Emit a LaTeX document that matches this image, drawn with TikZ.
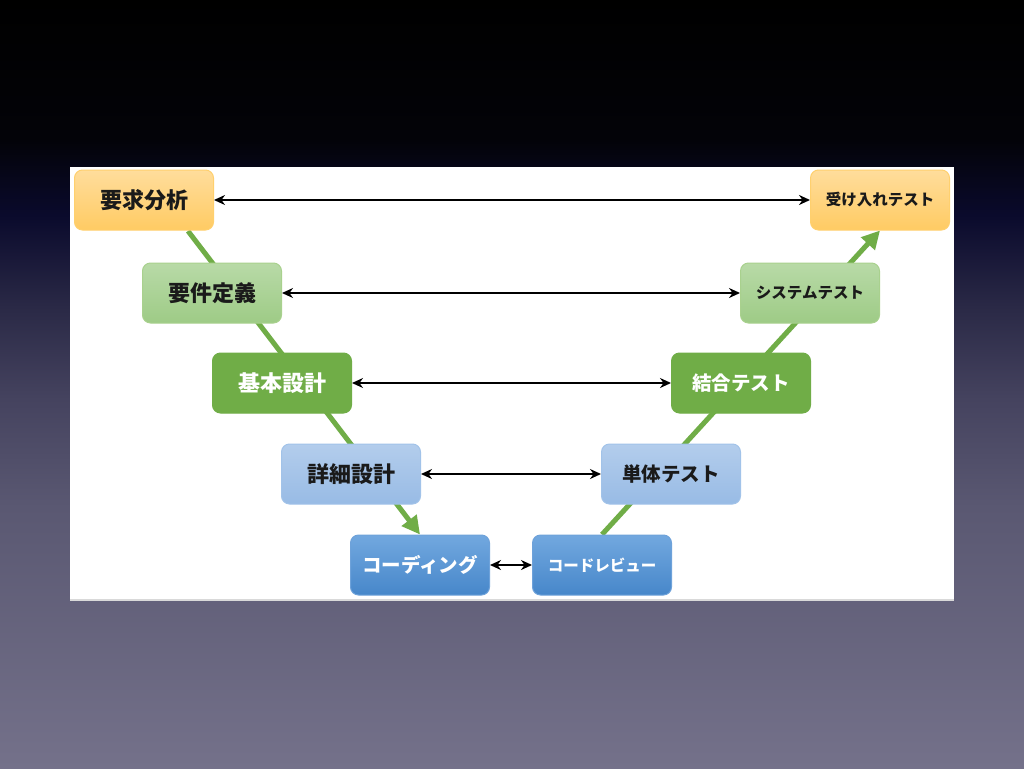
\documentclass[tikz,border=0pt]{standalone}
\usepackage{fontspec}
\setmainfont{Noto Sans CJK JP}
\usetikzlibrary{arrows,arrows.meta,positioning}

\definecolor{bgtop}{HTML}{000000}
\definecolor{bgdark}{HTML}{030308}
\definecolor{bgnavy}{HTML}{0A0A2C}
\definecolor{bgmid}{HTML}{2A2946}
\definecolor{bglow}{HTML}{45435F}
\definecolor{bglower}{HTML}{5A5872}
\definecolor{bgbot}{HTML}{74718A}
\definecolor{orangetop}{HTML}{FFDD9C}
\definecolor{orangebot}{HTML}{FFCB63}
\definecolor{orangeline}{HTML}{FFD06E}
\definecolor{lgreentop}{HTML}{B8DAA7}
\definecolor{lgreenbot}{HTML}{9ECB86}
\definecolor{lgreenline}{HTML}{A9D18E}
\definecolor{vgreen}{HTML}{70AD47}
\definecolor{lbluetop}{HTML}{B3CDEC}
\definecolor{lbluebot}{HTML}{98BBE5}
\definecolor{lblueline}{HTML}{A2C3E9}
\definecolor{mbluetop}{HTML}{72A8DF}
\definecolor{mbluebot}{HTML}{4787CA}
\definecolor{mblueline}{HTML}{6EA2DA}
\definecolor{darktext}{HTML}{1A1A1A}

\pgfdeclareverticalshading{slidebg}{100bp}{color(0bp)=(bgbot); color(25bp)=(bgbot);
  color(42bp)=(bglower); color(49bp)=(bglow); color(55bp)=(bgmid);
  color(61bp)=(bgnavy); color(66bp)=(bgdark); color(75bp)=(bgtop); color(100bp)=(bgtop)}

\pgfdeclarelayer{back}
\pgfdeclarelayer{lines}
\pgfsetlayers{back,lines,main}

\begin{document}
\begin{tikzpicture}[x=1pt,y=-1pt,>={Stealth[length=11pt,width=10pt]}]

  \tikzstyle{box}=[rectangle,rounded corners=8pt,minimum width=139pt,
                   minimum height=60pt,inner sep=0pt,line width=1pt,
                   font=\bfseries\fontsize{22}{22}\selectfont,text=darktext]
  \tikzstyle{orange box}=[box,draw=orangeline,top color=orangetop,bottom color=orangebot]
  \tikzstyle{lgreen box}=[box,draw=lgreenline,top color=lgreentop,bottom color=lgreenbot]
  \tikzstyle{dgreen box}=[box,draw=vgreen,fill=vgreen,text=white]
  \tikzstyle{lblue box}=[box,draw=lblueline,top color=lbluetop,bottom color=lbluebot]
  \tikzstyle{mblue box}=[box,draw=mblueline,top color=mbluetop,bottom color=mbluebot,text=white]
  \tikzstyle{kana}=[font=\bfseries\fontsize{19.5}{19.5}\selectfont]
  \tikzstyle{small kana}=[font=\bfseries\fontsize{15.5}{15.5}\selectfont]
  \tikzstyle{link}=[<->,line width=2.6pt,black]
  \tikzstyle{flow}=[-{Triangle[length=18pt,width=18pt]},line width=5pt,vgreen]

  \useasboundingbox (0,0) rectangle (1024,768);
  \begin{pgfonlayer}{back}
    \shade[shading=slidebg] (0,0) rectangle (1024,768);
    \fill[white] (70,167) rectangle (954,600);
    \draw[black!15,line width=1.5pt] (70,600) -- (954,600);
  \end{pgfonlayer}

  % left leg
  \node[orange box] (req)  at (144,200) {要求分析};
  \node[lgreen box] (spec) at (212,293) {要件定義};
  \node[dgreen box] (arch) at (282,383) {基本設計};
  \node[lblue box]  (det)  at (351,474) {詳細設計};
  \node[mblue box,kana] (code) at (420,565) {コーディング};

  % right leg
  \node[orange box,small kana] (accept) at (880,200) {受け入れテスト};
  \node[lgreen box,small kana] (sys)    at (810,293) {システムテスト};
  \node[dgreen box,kana]       (integ)  at (741,383) {結合テスト};
  \node[lblue box,kana]        (unit)   at (671,474) {単体テスト};
  \node[mblue box,small kana]  (review) at (602,565) {コードレビュー};

  \coordinate (vstart) at (188,231);
  \begin{pgfonlayer}{lines}
    \draw[flow] (vstart) -- (code.north);
    \draw[flow] (review.north) -- (accept.south);
  \end{pgfonlayer}

  \path
  (req)  edge [link] (accept)
  (spec) edge [link] (sys)
  (arch) edge [link] (integ)
  (det)  edge [link] (unit)
  (code) edge [link] (review)
  ;
\end{tikzpicture}
\end{document}
